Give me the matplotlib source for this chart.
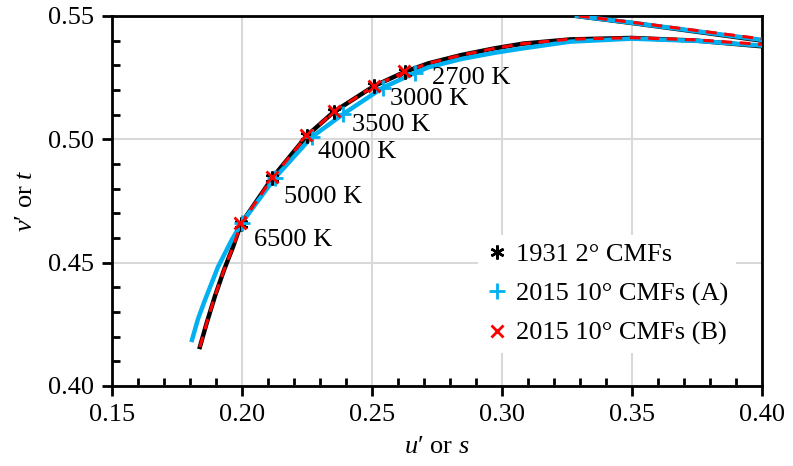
import numpy as np
import matplotlib.pyplot as plt
from matplotlib.ticker import MultipleLocator

plt.rcParams['font.family'] = ['Liberation Serif', 'DejaVu Serif']
plt.rcParams['mathtext.fontset'] = 'custom'
plt.rcParams['mathtext.rm'] = 'Liberation Serif'
plt.rcParams['mathtext.it'] = 'Liberation Serif:italic'

# Planckian locus (u', v') for the three sets of CMFs
u_1931 = [0.1838, 0.18654, 0.18962, 0.19308, 0.19654, 0.1996, 0.2117, 0.2249, 0.2354,
          0.2508, 0.2627, 0.2717, 0.2845, 0.2973, 0.3082, 0.3262, 0.3499, 0.3750, 0.4000]
v_1931 = [0.4158, 0.42595, 0.43649, 0.44703, 0.45635, 0.4657, 0.4844, 0.5014, 0.5112,
          0.5216, 0.5274, 0.5308, 0.5342, 0.5369, 0.5388, 0.5405, 0.5411, 0.5400, 0.5377]
u_a = [0.18077, 0.18308, 0.18577, 0.19077, 0.19604, 0.1999, 0.2127, 0.2268, 0.2390,
       0.2541, 0.2665, 0.2717, 0.2845, 0.2973, 0.3082, 0.3262, 0.3499, 0.3750, 0.4000]
v_a = [0.41865, 0.42716, 0.43486, 0.44824, 0.45919, 0.4661, 0.4844, 0.5009, 0.5103,
       0.5209, 0.5269, 0.5292, 0.5326, 0.5351, 0.5369, 0.5396, 0.5408, 0.5399, 0.5380]
u_b = u_1931
v_b = [0.4158, 0.42595, 0.43649, 0.44703, 0.45635, 0.4657, 0.4844, 0.5014, 0.5112,
       0.5216, 0.5274, 0.5308, 0.5342, 0.5369, 0.5388, 0.5406, 0.5412, 0.5403, 0.5385]

# spectrum locus segment at the top right
su_1931 = [0.3285, 0.3504, 0.3750, 0.4000]
sv_1931 = [0.5500, 0.5471, 0.5436, 0.5400]
su_a = [0.3288, 0.3504, 0.3750, 0.4000]
sv_a = [0.5500, 0.5472, 0.5438, 0.5403]
su_b = [0.3295, 0.3504, 0.3750, 0.4000]
sv_b = [0.5500, 0.5474, 0.5441, 0.5407]

# CCT markers
cct_labels = ["6500 K", "5000 K", "4000 K", "3500 K", "3000 K", "2700 K"]
mu_1931 = [0.1996, 0.2117, 0.2249, 0.2354, 0.2508, 0.2627]
mv_1931 = [0.4657, 0.4844, 0.5014, 0.5112, 0.5216, 0.5274]
mu_a = [0.1999, 0.2127, 0.2268, 0.2390, 0.2541, 0.2665]
mv_a = [0.4661, 0.4844, 0.5009, 0.5103, 0.5209, 0.5269]
mu_b = [0.1993, 0.2115, 0.2247, 0.2354, 0.2506, 0.2625]
mv_b = [0.4660, 0.4846, 0.5016, 0.5114, 0.5218, 0.5276]
label_u = [0.2046, 0.2162, 0.2292, 0.2423, 0.2569, 0.2731]
label_v = [0.4592, 0.4766, 0.4949, 0.5058, 0.5164, 0.5249]

blue = '#00B0F0'
red = '#FF0000'

fig = plt.figure(figsize=(7.93, 4.66), dpi=100)
ax = fig.add_axes([0.1412, 0.1717, 0.9609 - 0.1412, 0.9657 - 0.1717])

ax.plot(u_1931, v_1931, color='black', lw=3.2, zorder=3)
ax.plot(su_1931, sv_1931, color='black', lw=3.2, zorder=3)
ax.plot(u_a, v_a, color=blue, lw=3.2, zorder=3)
ax.plot(su_a, sv_a, color=blue, lw=3.2, zorder=3)
ax.plot(u_b, v_b, color=red, lw=2.2, dashes=(3.5, 2.5), zorder=4)
ax.plot(su_b, sv_b, color=red, lw=2.2, dashes=(3.5, 2.5), zorder=4)

ax.plot(mu_1931, mv_1931, ls='none', marker=(6, 2, 0), ms=10, mew=1.8,
        color='black', label='1931 2° CMFs', zorder=5)
ax.plot(mu_a, mv_a, ls='none', marker='+', ms=11, mew=2,
        color=blue, label='2015 10° CMFs (A)', zorder=5)
ax.plot(mu_b, mv_b, ls='none', marker='x', ms=9, mew=2,
        color=red, label='2015 10° CMFs (B)', zorder=6)

for lab, x, y in zip(cct_labels, label_u, label_v):
    ax.text(x, y, lab, fontsize=19, ha='left', va='center', zorder=7)

ax.set_xlim(0.15, 0.40)
ax.set_ylim(0.40, 0.55)
ax.xaxis.set_major_locator(MultipleLocator(0.05))
ax.yaxis.set_major_locator(MultipleLocator(0.05))
ax.xaxis.set_minor_locator(MultipleLocator(0.01))
ax.yaxis.set_minor_locator(MultipleLocator(0.01))
ax.xaxis.set_major_formatter(plt.FormatStrFormatter('%.2f'))
ax.yaxis.set_major_formatter(plt.FormatStrFormatter('%.2f'))
ax.tick_params(which='major', direction='out', length=7, width=2, labelsize=19, pad=6)
ax.tick_params(which='minor', direction='in', length=6, width=2)
ax.grid(True, which='major', color='#d9d9d9', lw=1.5, zorder=0)
ax.set_axisbelow(True)
for s in ax.spines.values():
    s.set_linewidth(2)

ax.set_xlabel("$u$′ or $s$", fontsize=19, labelpad=7)
ax.set_ylabel("$v$′ or $t$", fontsize=19, labelpad=8)

leg = ax.legend(loc='lower right', bbox_to_anchor=(0.98, 0.053), fontsize=19,
                frameon=True, framealpha=1, edgecolor='none', facecolor='white',
                handlelength=0.8, handletextpad=0.32, labelspacing=0.59,
                borderpad=0.3, fancybox=False)
leg.set_zorder(8)

fig.savefig('out.png', dpi=100)
